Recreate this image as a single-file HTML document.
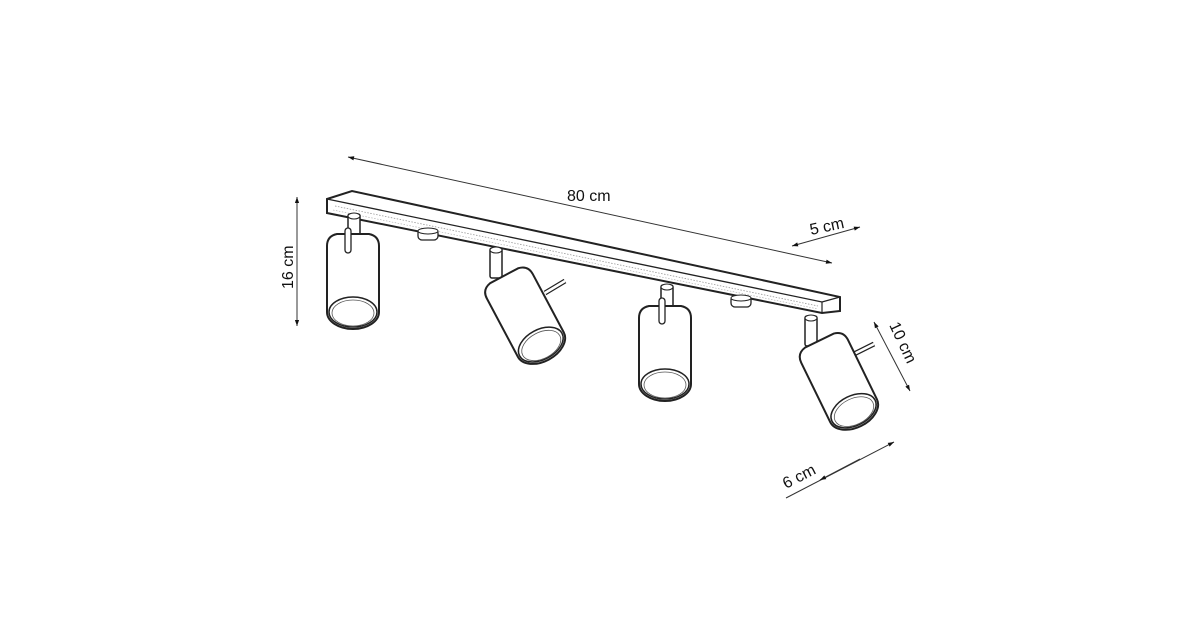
<!DOCTYPE html><html><head><style>html,body{margin:0;padding:0;background:#fff}svg{display:block}text{font-family:"Liberation Sans",sans-serif;font-size:16px;fill:#111}</style></head><body>
<svg width="1200" height="630" viewBox="0 0 1200 630" xmlns="http://www.w3.org/2000/svg">
<defs>
<marker id="a" viewBox="0 0 10 10" refX="10" refY="5" markerWidth="9" markerHeight="6" orient="auto-start-reverse"><path d="M0,1.5 L10,5 L0,8.5z" fill="#111"/></marker>
<g id="cyl">
<path d="M-26,6 Q-26,-4 -16,-6 L16,-6 Q26,-4 26,6 L26,72 A26,17 0 0 1 -26,72z" fill="#fff" stroke="#222" stroke-width="2"/>
<ellipse cx="0" cy="72" rx="24" ry="15" fill="#fff" stroke="#222" stroke-width="1.5"/>
<ellipse cx="0" cy="73" rx="21" ry="13" fill="none" stroke="#555" stroke-width="0.8"/>
</g>
<g id="stem"><rect x="-6" y="0" width="12" height="30" rx="2" fill="#fff" stroke="#222" stroke-width="1.5"/><ellipse cx="0" cy="2" rx="6" ry="3" fill="#fff" stroke="#222" stroke-width="1"/></g>
</defs>
<path d="M327,199 L352,191 L840,297 L840,311 L822,313 L327,213 Z" fill="#fff" stroke="#222" stroke-width="2"/>
<path d="M327,199 L822,302 L840,297" fill="none" stroke="#222" stroke-width="1.3"/>
<path d="M822,302 L822,313" stroke="#222" stroke-width="1.2"/>
<path d="M335,206 L818,306" stroke="#999" stroke-width="0.8" stroke-dasharray="1.5,1.5"/>
<path d="M333,210 L818,309" stroke="#aaa" stroke-width="0.6" stroke-dasharray="1.5,1.5"/>
<g><rect x="418" y="229" width="20" height="11" rx="4" fill="#fff" stroke="#222" stroke-width="1.3"/><ellipse cx="428" cy="231" rx="10" ry="3" fill="#fff" stroke="#222"/></g>
<g><rect x="731" y="296" width="20" height="11" rx="4" fill="#fff" stroke="#222" stroke-width="1.3"/><ellipse cx="741" cy="298" rx="10" ry="3" fill="#fff" stroke="#222"/></g>
<use href="#stem" x="354" y="214"/>
<use href="#cyl" x="353" y="240"/>
<rect x="345" y="228" width="6" height="25" rx="3" fill="#fff" stroke="#222" stroke-width="1.3"/>
<use href="#stem" x="496" y="248"/>
<line x1="545" y1="293" x2="565" y2="281" stroke="#222" stroke-width="5"/><line x1="545" y1="293" x2="565" y2="281" stroke="#fff" stroke-width="2.5"/>
<g transform="translate(507,281) rotate(-28)"><use href="#cyl"/></g>
<use href="#stem" x="667" y="285"/>
<use href="#cyl" x="665" y="312"/>
<rect x="659" y="298" width="6" height="26" rx="3" fill="#fff" stroke="#222" stroke-width="1.3"/>
<use href="#stem" x="811" y="316"/>
<line x1="848" y1="357" x2="874" y2="344" stroke="#222" stroke-width="5"/><line x1="848" y1="357" x2="874" y2="344" stroke="#fff" stroke-width="2.5"/>
<g transform="translate(822,346) rotate(-26)"><use href="#cyl"/></g>
<line x1="348" y1="157" x2="832" y2="263" stroke="#333" stroke-width="1" marker-start="url(#a)" marker-end="url(#a)"/>
<text x="567" y="201">80 cm</text>
<line x1="297" y1="197" x2="297" y2="326" stroke="#333" stroke-width="1" marker-start="url(#a)" marker-end="url(#a)"/>
<text transform="translate(293,289) rotate(-90)">16 cm</text>
<line x1="792" y1="246" x2="860" y2="227" stroke="#333" stroke-width="1" marker-start="url(#a)" marker-end="url(#a)"/>
<text transform="translate(811,235) rotate(-12)">5 cm</text>
<line x1="874" y1="322" x2="910" y2="391" stroke="#333" stroke-width="1" marker-start="url(#a)" marker-end="url(#a)"/>
<text transform="translate(889,325) rotate(65)">10 cm</text>
<line x1="786" y1="498" x2="894" y2="442" stroke="#333" stroke-width="1" marker-end="url(#a)"/>
<line x1="820" y1="480" x2="860" y2="459" stroke="#333" stroke-width="1" marker-start="url(#a)"/>
<text transform="translate(786,489) rotate(-27)">6 cm</text>
</svg>
</body></html>
